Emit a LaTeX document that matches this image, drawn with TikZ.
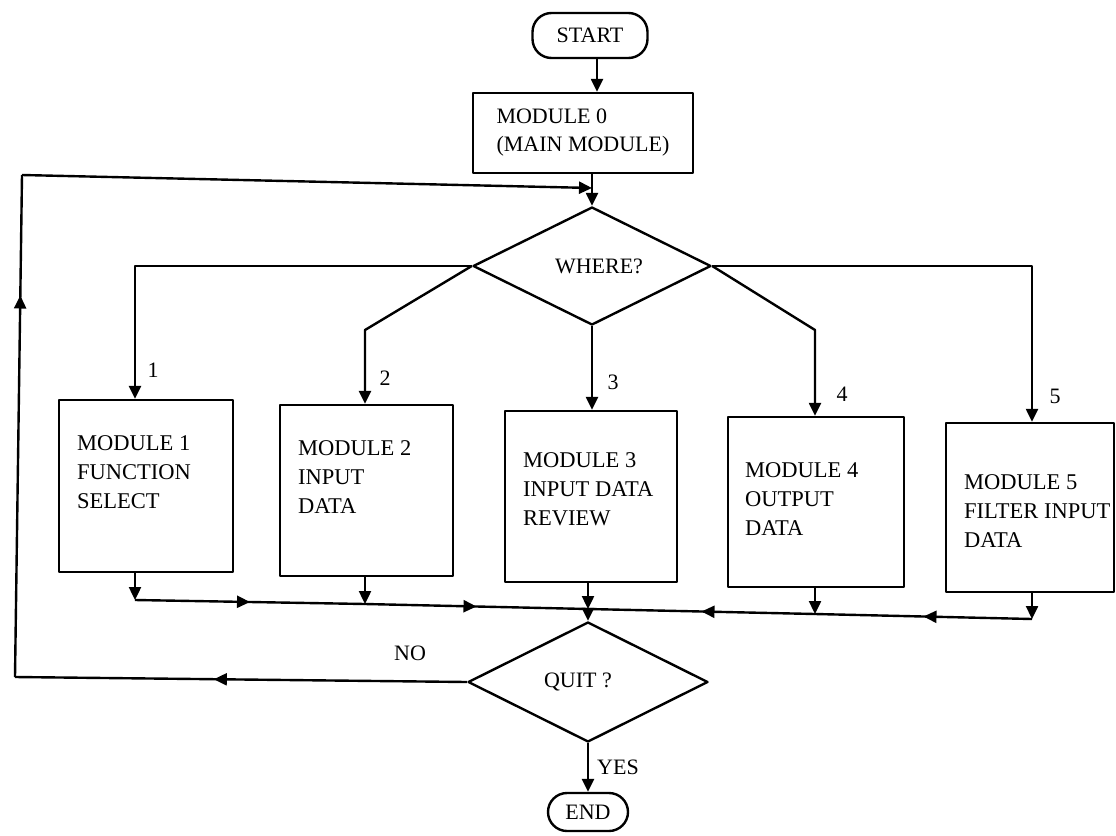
\documentclass[tikz,border=0pt]{standalone}
\usepackage{fontspec}
\setmainfont{Liberation Serif}
\usetikzlibrary{arrows.meta,shapes.geometric,decorations.markings}
\tikzset{
  ln/.style={line width=2.4pt, line join=round},
  tip/.tip={Triangle[length=13pt,width=12pt]},
  arr/.style={ln, -tip},
  midarr/.style={ln, postaction={decorate}, decoration={markings, mark=at position #1 with {\arrow{tip}}}},
  midarr/.default=0.5,
  modbox/.style={draw, ln, rectangle, inner sep=0pt},
  modtext/.style={anchor=north west, inner sep=0pt, align=left, font=\fontsize{22.5}{29}\selectfont},
  lbl/.style={inner sep=0pt, font=\fontsize{22}{26}\selectfont},
  term/.style={draw, ln, rectangle, rounded corners=19pt, inner sep=0pt, font=\fontsize{22}{26}\selectfont},
  dec/.style={draw, ln, diamond, inner sep=0pt, font=\fontsize{22}{26}\selectfont},
}
\begin{document}
\begin{tikzpicture}[x=1pt,y=-1pt]
\fill[white] (0,0) rectangle (1116,835);
\useasboundingbox (0,0) rectangle (1116,835);

% terminals and main module
\node[term, minimum width=115pt, minimum height=45pt] (start) at (590,35.5) {START};
\node[modbox, minimum width=220pt, minimum height=80pt, align=left,
      font=\fontsize{22}{28}\selectfont] (m0) at (583,133) {MODULE 0\\(MAIN MODULE)};

% decisions
\node[dec, minimum width=238pt, minimum height=118pt] (W) at (592,266) {\hspace{14pt}WHERE?};
\node[dec, minimum width=240pt, minimum height=120pt] (Q) at (588,682) {\hspace{-20pt}QUIT ?};
\node[term, minimum width=80pt, minimum height=38pt] (end) at (588,812) {END};

% module boxes
\node[modbox, minimum width=174pt, minimum height=172pt] (m1) at (146,486) {};
\node[modbox, minimum width=173pt, minimum height=171pt] (m2) at (366.5,490.5) {};
\node[modbox, minimum width=172pt, minimum height=171pt] (m3) at (591,496.5) {};
\node[modbox, minimum width=176pt, minimum height=170pt] (m4) at (816,502) {};
\node[modbox, minimum width=168pt, minimum height=169pt] (m5) at (1030,507.5) {};

\node[modtext] (t1) at (77,435) {MODULE 1\\FUNCTION\\SELECT};
\node[modtext] (t2) at (298,440) {MODULE 2\\INPUT\\DATA};
\node[modtext] (t3) at (523,452) {MODULE 3\\INPUT DATA\\REVIEW};
\node[modtext] (t4) at (745,462) {MODULE 4\\OUTPUT\\DATA};
\node[modtext] (t5) at (964,474) {MODULE 5\\FILTER INPUT\\DATA};

% branch labels
\node[lbl] (l1) at (153,370) {1};
\node[lbl] (l2) at (385,378) {2};
\node[lbl] (l3) at (613,382) {3};
\node[lbl] (l4) at (842,394) {4};
\node[lbl] (l5) at (1055,396) {5};
\node[lbl] (no) at (410,653) {NO};
\node[lbl] (yes) at (618,767) {YES};

% helper coordinates
\coordinate (k2) at (365,330);
\coordinate (k4) at (815,330);
\coordinate (b1) at (135,600);
\coordinate (b2) at (365,604);
\coordinate (b3) at (588,609);
\coordinate (b4) at (815,614);
\coordinate (b5) at (1032,619);
\coordinate (c1) at (15,677);
\coordinate (c2) at (22,175);
\coordinate (j) at (592,188);

% main flow
\draw[arr] ([xshift=7pt]start.south) -- ([xshift=7pt]start.south |- m0.north);
\draw[arr] (W.north |- m0.south) -- (W.north);

% branches
\draw[arr] (W.west) -| (b1 |- m1.north);
\draw[arr] (W.west) -- (k2) -- (b2 |- m2.north);
\draw[arr] (W.south) -- (W.south |- m3.north);
\draw[arr] (W.east) -- (k4) -- (b4 |- m4.north);
\draw[arr] (W.east) -| (b5 |- m5.north);

% module outputs to collector
\draw[arr] (b1 |- m1.south) -- (b1);
\draw[arr] (b2 |- m2.south) -- (b2);
\draw[arr] (b3 |- m3.south) -- (b3);
\draw[arr] (b4 |- m4.south) -- (b4);
\draw[arr] (b5 |- m5.south) -- (b5);
\draw[midarr] (b1) -- (b2);
\draw[midarr] (b2) -- (b3);
\draw[midarr] (b5) -- (b4);
\draw[midarr] (b4) -- (b3);
\draw[arr] (b3) -- (Q.north);

% quit decision
\draw[arr] (Q.south) -- (end.north);
\draw[midarr=0.56] (Q.west) -- (c1);
\draw[midarr=0.76] (c1) -- (c2);
\draw[arr] (c2) -- (j);
\end{tikzpicture}
\end{document}
